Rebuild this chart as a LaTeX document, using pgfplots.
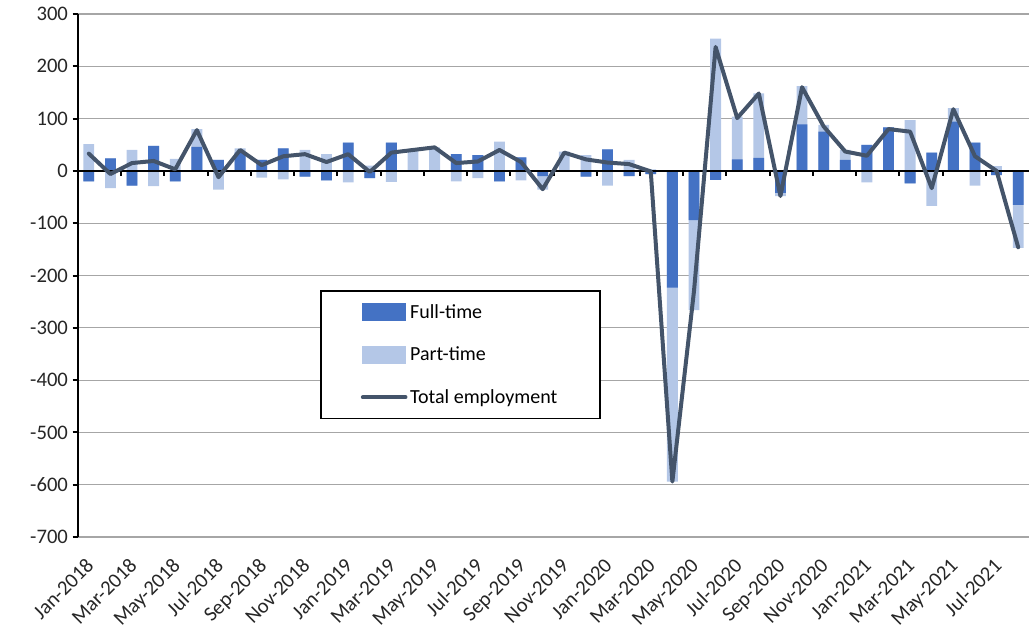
\documentclass[border=0pt]{standalone}
\usepackage{fontspec}
\setmainfont{Carlito}
\usepackage{pgfplots}
\pgfplotsset{compat=1.18}
\usepackage{pgfplotstable}
\definecolor{ftblue}{HTML}{4472C4}
\definecolor{ptblue}{HTML}{B4C7E7}
\definecolor{totline}{HTML}{44546A}
\definecolor{gridgray}{HTML}{A6A6A6}
\definecolor{labgray}{HTML}{262626}

\pgfplotstableread{
x ft pt tot
0 -20 51 33
1 24 -33 -6
2 -28 40 15
3 48 -29 19
4 -20 23 3
5 46 34 78
6 21 -36 -12
7 35 8 40
8 21 -13 11
9 43 -16 28
10 -11 40 32
11 -18 32 17
12 54 -22 32
13 -14 10 -2
14 54 -21 35
15 -2 42 40
16 0 45 45
17 32 -20 15
18 30 -14 18
19 -20 56 40
20 26 -18 17
21 -10 -26 -35
22 0 37 35
23 -11 30 22
24 41 -28 16
25 -10 21 13
26 -6 3 -1
27 -223 -371 -594
28 -94 -172 -230
29 -17 253 237
30 22 82 101
31 25 123 148
32 -42 -6 -48
33 89 73 160
34 75 13 85
35 21 19 37
36 50 -22 29
37 83 0 80
38 -24 97 75
39 35 -67 -33
40 94 26 118
41 54 -28 28
42 -8 9 0
43 -65 -82 -146
}\data

\begin{document}
\begin{tikzpicture}[x=1pt,y=1pt]
\useasboundingbox (-58.5,-76.5) rectangle (713.25,402.75);
\begin{axis}[
  at={(0,0)}, anchor=south west, scale only axis,
  width=713.25pt, height=392.25pt,
  xmin=-0.5, xmax=43.5, ymin=-700, ymax=300,
  axis lines*=left,
  x axis line style={draw=none},
  y axis line style={line width=1.5pt, black},
  ytick={-700,-600,...,300},
  ymajorgrids, grid style={gridgray, line width=0.9pt},
  xtick={0,2,...,42},
  xticklabels={Jan-2018,Mar-2018,May-2018,Jul-2018,Sep-2018,Nov-2018,Jan-2019,Mar-2019,May-2019,Jul-2019,Sep-2019,Nov-2019,Jan-2020,Mar-2020,May-2020,Jul-2020,Sep-2020,Nov-2020,Jan-2021,Mar-2021,May-2021,Jul-2021},
  x tick style={draw=none},
  y tick style={black, line width=1.5pt},
  tick align=outside, major tick length=4pt,
  tick label style={font=\fontsize{15.5}{18}\selectfont, text=labgray},
  /pgf/number format/assume math mode=true,
  xticklabel shift=8pt,
  xticklabel style={xshift=-3pt, rotate=45, anchor=north east, inner sep=2pt},
  legend style={at={(0.2545,0.472)}, anchor=north west, draw=black, line width=1.2pt,
    inner xsep=30pt, inner ysep=8pt, row sep=16pt,
    font=\fontsize{15}{18}\selectfont},
  legend cell align=left,
]
\addlegendimage{legend image code/.code={\fill[ftblue] (0pt,-6pt) rectangle (32pt,6pt);}}
\addlegendentry{Full-time}
\addlegendimage{legend image code/.code={\fill[ptblue] (0pt,-6pt) rectangle (32pt,6pt);}}
\addlegendentry{Part-time}

\addplot[ybar, bar width=0.5, bar shift=0pt, fill=ptblue, draw=none, forget plot]
  table[x=x, y expr={max(\thisrow{ft},0)+max(\thisrow{pt},0)}]{\data};
\addplot[ybar, bar width=0.5, bar shift=0pt, fill=ptblue, draw=none, forget plot]
  table[x=x, y expr={min(\thisrow{ft},0)+min(\thisrow{pt},0)}]{\data};
\addplot[ybar, bar width=0.5, bar shift=0pt, fill=ftblue, draw=none, forget plot]
  table[x=x, y expr={max(\thisrow{ft},0)}]{\data};
\addplot[ybar, bar width=0.5, bar shift=0pt, fill=ftblue, draw=none, forget plot]
  table[x=x, y expr={min(\thisrow{ft},0)}]{\data};

\draw[black, line width=1.5pt] (axis cs:-0.5,0) -- (axis cs:43.5,0);
\pgfplotsinvokeforeach{1.5,3.5,...,41.5}{
  \draw[black, line width=1.5pt] (axis cs:#1,0) -- ([yshift=-4pt]axis cs:#1,0);
}

\addplot[totline, line width=3pt, line join=round, line cap=round, mark=none,
  legend image code/.code={\draw[totline, line width=3pt, line cap=round] (0pt,0pt) -- (32pt,0pt);}]
  table[x=x, y=tot]{\data};
\addlegendentry{Total employment}
\end{axis}
\end{tikzpicture}
\end{document}
